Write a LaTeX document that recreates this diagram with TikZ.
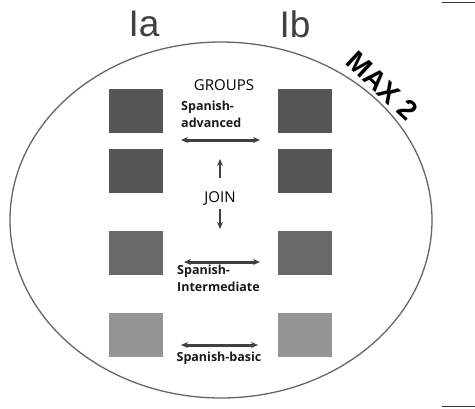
\documentclass[tikz,border=0pt]{standalone}
\usepackage{fontspec}
\setmainfont{Liberation Sans}
\newfontfamily\lblfont{Open Sans}
\usetikzlibrary{arrows.meta}
\definecolor{sqdark}{HTML}{555555}
\definecolor{sqmid}{HTML}{686868}
\definecolor{sqlight}{HTML}{959595}
\tikzset{
  sq/.style={draw=none,minimum width=54pt,minimum height=44pt,inner sep=0pt},
  small/.style={font=\lblfont\bfseries\fontsize{12.5}{17}\selectfont,inner sep=0pt,align=left,text=black!90},
  head/.style={font=\lblfont\fontsize{15}{17}\selectfont,inner sep=0pt,text=black},
  dbl/.style={line width=3pt,draw=black!75,{Stealth[length=7pt,width=6pt]}-{Stealth[length=7pt,width=6pt]}},
  sgl/.style={line width=2.2pt,draw=black!75,-{Stealth[length=7pt,width=6pt]}}
}
\begin{document}
\begin{tikzpicture}[x=1pt,y=-1pt]
\useasboundingbox (0,0) rectangle (475,408);
\fill[white] (0,0) rectangle (475,408);
% ellipse
\draw[line width=1.3pt,draw=black!60] (221,220) ellipse [x radius=211,y radius=178];
% top labels
\node[font=\fontsize{37}{40}\selectfont,text=black!75,inner sep=0pt] (ia) at (144,24) {Ia};
\node[font=\fontsize{37}{40}\selectfont,text=black!75,inner sep=0pt] (ib) at (295,24) {Ib};
\node[font=\bfseries\fontsize{28}{32}\selectfont,rotate=-43,inner sep=0pt] (max) at (382,86) {MAX 2};
% squares
\node[sq,fill=sqdark] (l1) at (136,111) {};
\node[sq,fill=sqdark] (r1) at (305,111) {};
\node[sq,fill=sqdark] (l2) at (136,171) {};
\node[sq,fill=sqdark] (r2) at (305,171) {};
\node[sq,fill=sqmid] (l3) at (136,252.5) {};
\node[sq,fill=sqmid] (r3) at (305,252.5) {};
\node[sq,fill=sqlight] (l4) at (136,334.5) {};
\node[sq,fill=sqlight] (r4) at (305,334.5) {};
% texts
\node[head] (groups) at (224,85) {GROUPS};
\node[small,anchor=north west] (adv) at (181,101) {Spanish-\\advanced};
\node[head] (join) at (220,198) {JOIN};
\node[small,anchor=north west] (int) at (177,265) {Spanish-\\Intermediate};
\node[small] (bas) at (219,358) {Spanish-basic};
% arrow endpoints
\coordinate (a1) at (181,140); \coordinate (b1) at (260,140);
\coordinate (a3) at (184,262); \coordinate (b3) at (260,262);
\coordinate (a4) at (181,345); \coordinate (b4) at (258,345);
\draw[dbl] (a1) -- (b1);
\draw[dbl] (a3) -- (b3);
\draw[dbl] (a4) -- (b4);
\coordinate (js) at (220,178); \coordinate (ju) at (220,159);
\coordinate (jt) at (220,209); \coordinate (jd) at (220,229);
\draw[sgl] (js) -- (ju);
\draw[sgl] (jt) -- (jd);
% cropped edge lines
\draw[line width=1pt,black!80] (442,2) -- (475,2);
\draw[line width=1pt,black!80] (442,406) -- (475,406);
\end{tikzpicture}
\end{document}
